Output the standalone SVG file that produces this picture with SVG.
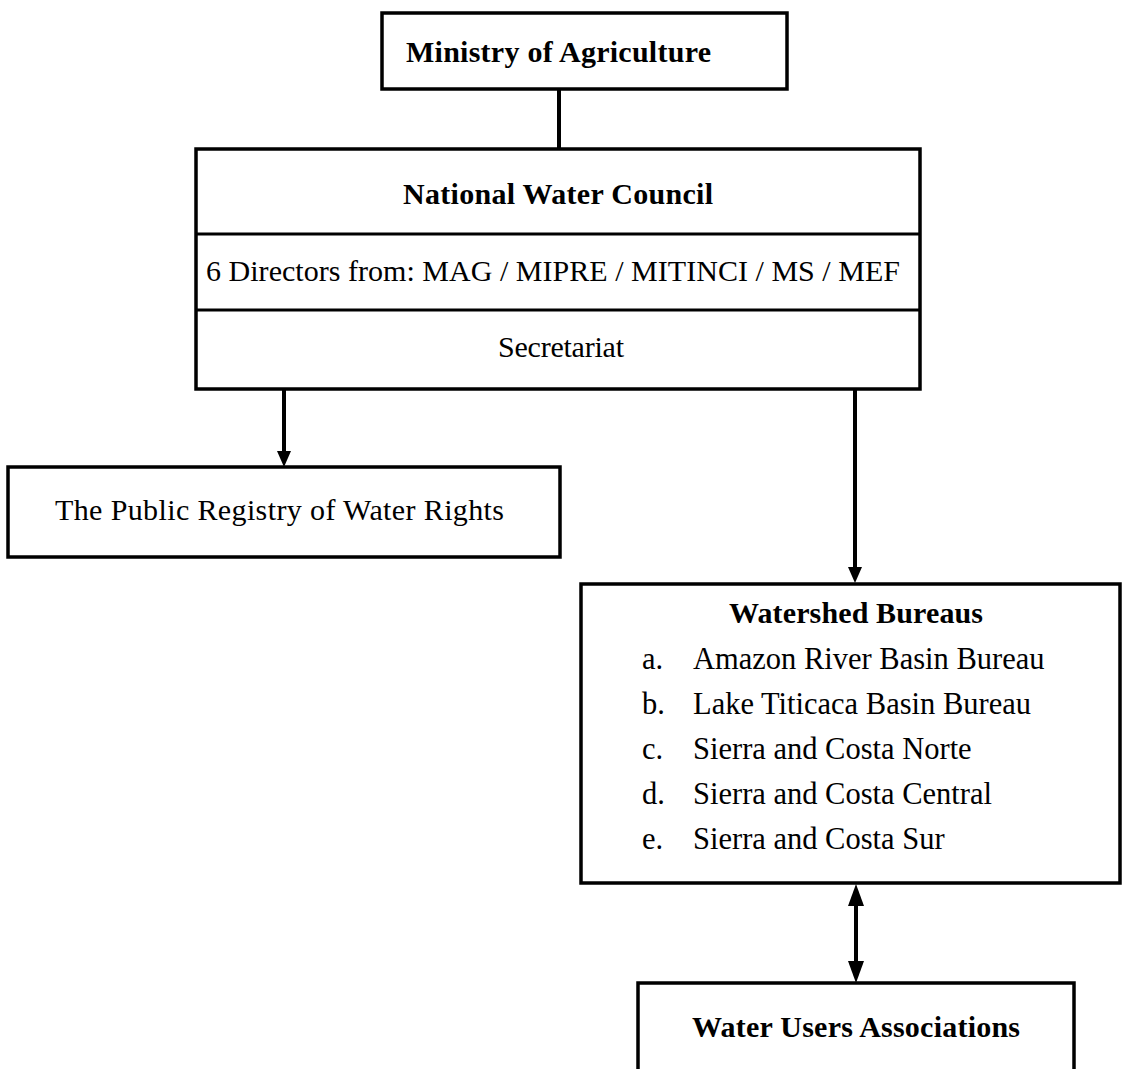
<svg xmlns="http://www.w3.org/2000/svg" width="1122" height="1069" viewBox="0 0 1122 1069">
<style>
.box{fill:#fff;stroke:#000;stroke-width:3.5}
.div{stroke:#000;stroke-width:3}
.t{font-family:"Liberation Serif","Times New Roman",serif;font-size:30px;fill:#000}
.l{font-size:30.5px}
.b{font-weight:bold}
.m{text-anchor:middle}
.con{stroke:#000;stroke-width:4;fill:none}
</style>
<defs>
<marker id="ah" viewBox="0 0 16 14" refX="7" refY="7" markerWidth="16" markerHeight="14" markerUnits="userSpaceOnUse" orient="auto"><path d="M0,0 L16,7 L0,14 z" fill="#000"/></marker>
<marker id="ahl" viewBox="0 0 22 16" refX="12" refY="8" markerWidth="22" markerHeight="16" markerUnits="userSpaceOnUse" orient="auto-start-reverse"><path d="M0,0 L22,8 L0,16 z" fill="#000"/></marker>
</defs>
<rect width="1122" height="1069" fill="#fff"/>
<g id="connectors">
<line class="con" x1="559" y1="89" x2="559" y2="149"/>
<line class="con" x1="284" y1="390" x2="284" y2="458" marker-end="url(#ah)"/>
<line class="con" x1="855" y1="390" x2="855" y2="574" marker-end="url(#ah)"/>
<line class="con" x1="856" y1="894" x2="856" y2="973" marker-start="url(#ahl)" marker-end="url(#ahl)"/>
</g>
<g id="ministry">
<rect class="box" x="382" y="13" width="405" height="76"/>
<text class="t b" x="406" y="62" textLength="305">Ministry of Agriculture</text>
</g>
<g id="council">
<rect class="box" x="196" y="149" width="724" height="240"/>
<line class="div" x1="196" y1="234" x2="920" y2="234"/>
<line class="div" x1="196" y1="310" x2="920" y2="310"/>
<text class="t b" x="403" y="204" textLength="310">National Water Council</text>
<text class="t" x="206" y="281" textLength="694">6 Directors from: MAG / MIPRE / MITINCI / MS / MEF</text>
<text class="t" x="498" y="357" textLength="126">Secretariat</text>
</g>
<g id="registry">
<rect class="box" x="8" y="467" width="552" height="90"/>
<text class="t" x="55" y="520" textLength="449">The Public Registry of Water Rights</text>
</g>
<g id="watershed">
<rect class="box" x="581" y="584" width="539" height="299"/>
<text class="t b" x="729" y="623" textLength="254">Watershed Bureaus</text>
<text class="t l" x="642" y="669">a.</text><text class="t l" x="693" y="669">Amazon River Basin Bureau</text>
<text class="t l" x="642" y="714">b.</text><text class="t l" x="693" y="714">Lake Titicaca Basin Bureau</text>
<text class="t l" x="642" y="759">c.</text><text class="t l" x="693" y="759">Sierra and Costa Norte</text>
<text class="t l" x="642" y="804">d.</text><text class="t l" x="693" y="804">Sierra and Costa Central</text>
<text class="t l" x="642" y="849">e.</text><text class="t l" x="693" y="849">Sierra and Costa Sur</text>
</g>
<g id="users">
<rect class="box" x="638" y="983" width="436" height="120"/>
<text class="t b" x="692" y="1037" textLength="328">Water Users Associations</text>
</g>
</svg>
